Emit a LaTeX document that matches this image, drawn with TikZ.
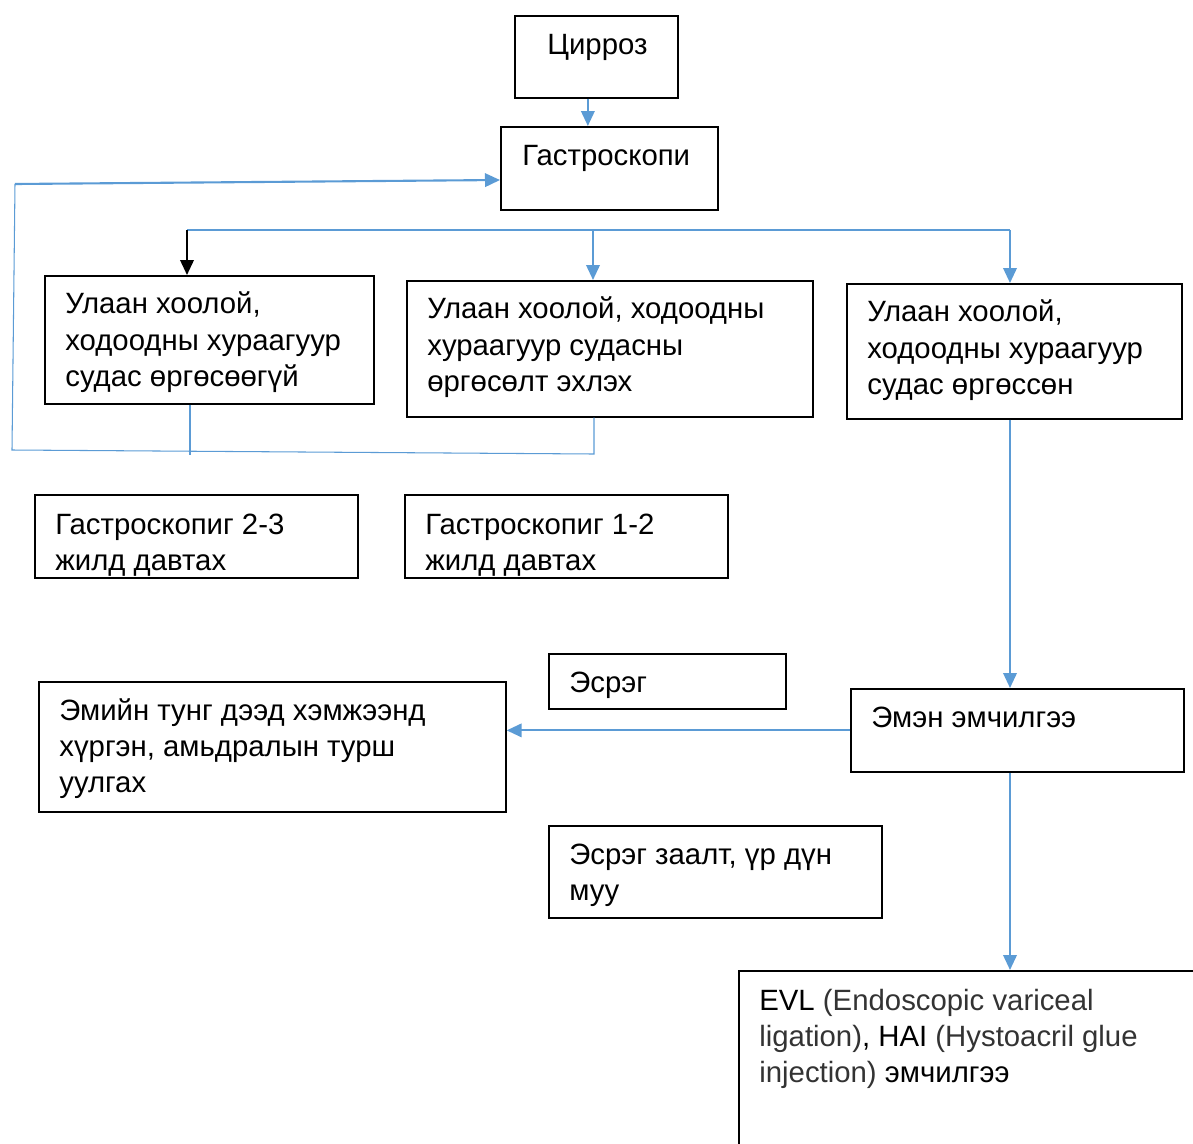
\documentclass[tikz,border=0pt]{standalone}
\usepackage{fontspec}
\setmainfont{Liberation Sans}
\usetikzlibrary{arrows.meta,calc}
\definecolor{msblue}{HTML}{5B9BD5}
\definecolor{txtgray}{HTML}{333333}
\newcommand{\lines}[1]{\begin{tabular}[t]{@{}l@{}}#1\end{tabular}}

\begin{document}
\begin{tikzpicture}[x=0.02cm,y=-0.02cm,
      box/.style={draw, line width=1pt, rectangle, anchor=north west, inner sep=0pt},
      txt/.style={anchor=base west, inner sep=0pt, font=\fontsize{16.7pt}{20.5pt}\selectfont},
      link/.style={draw=msblue, line width=1.2pt, -{Triangle[length=0.3cm,width=0.27cm]}},
      loop/.style={draw=msblue, line width=0.6pt}
      ]
      \useasboundingbox (0,0) rectangle (1193,1143);
      \clip (0,0) rectangle (1193,1143);

      % boxes
      \node[box, minimum width=3.26cm, minimum height=1.64cm] (C) at (514,15) {};
      \node[box, minimum width=4.34cm, minimum height=1.66cm] (G) at (500,126) {};
      \node[box, minimum width=6.58cm, minimum height=2.56cm] (V1) at (44,275) {};
      \node[box, minimum width=8.12cm, minimum height=2.72cm] (V2) at (406,280) {};
      \node[box, minimum width=6.70cm, minimum height=2.70cm] (V3) at (846,283) {};
      \node[box, minimum width=6.46cm, minimum height=1.66cm] (R1) at (34,494) {};
      \node[box, minimum width=6.46cm, minimum height=1.66cm] (R2) at (404,494) {};
      \node[box, minimum width=4.74cm, minimum height=1.10cm] (E1) at (548,653) {};
      \node[box, minimum width=9.34cm, minimum height=2.60cm] (M) at (38,681) {};
      \node[box, minimum width=6.66cm, minimum height=1.66cm] (D) at (850,688) {};
      \node[box, minimum width=6.66cm, minimum height=1.84cm] (E2) at (548,825) {};
      \node[box, minimum width=9.54cm, minimum height=4.00cm] (T) at (738,970) {};

      % texts
      \node[txt] (Ct) at ([shift={(0.66cm,-0.80cm)}]C.north west) {Цирроз};
      \node[txt] (Gt) at ([shift={(0.44cm,-0.80cm)}]G.north west) {Гастроскопи};
      \node[txt] (V1t) at ([shift={(0.42cm,-0.78cm)}]V1.north west) {\lines{Улаан хоолой,\\ходоодны хураагуур\\судас өргөсөөгүй}};
      \node[txt] (V2t) at ([shift={(0.42cm,-0.78cm)}]V2.north west) {\lines{Улаан хоолой, ходоодны\\хураагуур судасны\\өргөсөлт эхлэх}};
      \node[txt] (V3t) at ([shift={(0.42cm,-0.78cm)}]V3.north west) {\lines{Улаан хоолой,\\ходоодны хураагуур\\судас өргөссөн}};
      \node[txt] (R1t) at ([shift={(0.42cm,-0.80cm)}]R1.north west) {\lines{Гастроскопиг 2-3\\жилд давтах}};
      \node[txt] (R2t) at ([shift={(0.42cm,-0.80cm)}]R2.north west) {\lines{Гастроскопиг 1-2\\жилд давтах}};
      \node[txt] (E1t) at ([shift={(0.42cm,-0.78cm)}]E1.north west) {Эсрэг};
      \node[txt] (Mt) at ([shift={(0.42cm,-0.78cm)}]M.north west) {\lines{Эмийн тунг дээд хэмжээнд\\хүргэн, амьдралын турш\\уулгах}};
      \node[txt] (Dt) at ([shift={(0.42cm,-0.78cm)}]D.north west) {Эмэн эмчилгээ};
      \node[txt] (E2t) at ([shift={(0.42cm,-0.78cm)}]E2.north west) {\lines{Эсрэг заалт, үр дүн\\муу}};
      \node[txt] (Tt) at ([shift={(0.42cm,-0.80cm)}]T.north west) {\lines{EVL {\color{txtgray}(Endoscopic variceal}\\{\color{txtgray}ligation)}, HAI {\color{txtgray}(Hystoacril glue}\\{\color{txtgray}injection)} эмчилгээ}};

      \coordinate (S1) at (187,230);
      \coordinate (S2) at (593,230);
      \coordinate (S3) at (1010,230);
      \coordinate (B1) at (190,455);
      \coordinate (B2) at (594,454);
      \coordinate (L1) at (12,450);
      \coordinate (L2) at (15,184);
      \coordinate (A) at (500,180);

      \draw[link] ([xshift=-0.17cm]C.south) -- ([xshift=-0.17cm]C.south |- G.north);

      % split after gastroscopy
      \draw[loop] (S1) -- (S3);
      \draw[link, draw=black] (S1) -- (S1 |- V1.north);
      \foreach \s/\v in {S2/V2,S3/V3}{
        \draw[link] (\s) -- (\s |- \v.north);
      }

      % back to gastroscopy
      \draw[loop] (V1.south -| B1) -- (B1);
      \draw[loop] (V2.south -| B2) -- (B2) -- (L1) -- (L2);
      \draw[link] (L2) -- (G.west |- A);

      \draw[link] (V3.south -| S3) -- (D.north -| S3);
      \draw[link] (D.west) -- (M.east |- D.west);
      \draw[link] (D.south -| S3) -- (T.north -| S3);
    \end{tikzpicture}
\end{document}
